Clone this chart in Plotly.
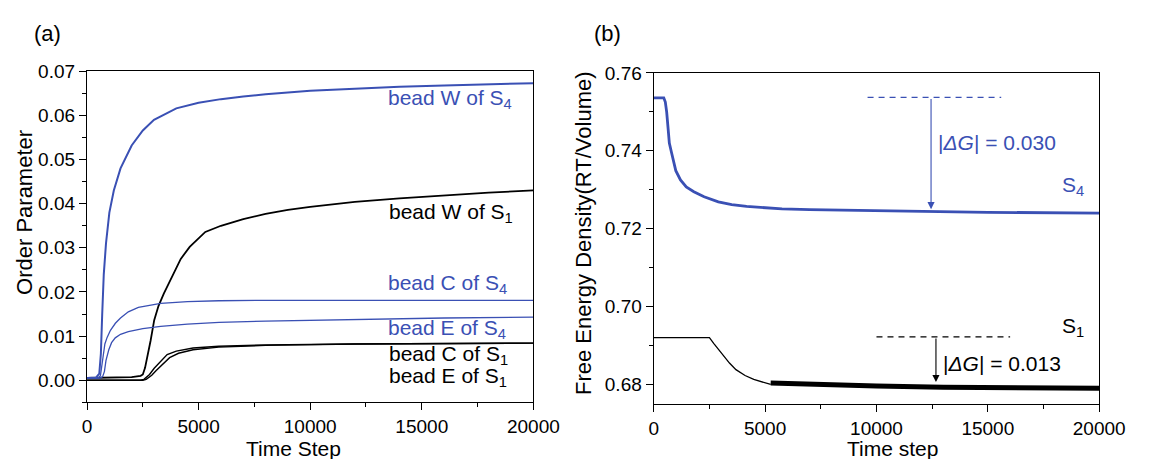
import plotly.graph_objects as go

BLUE = "#3a50b4"
BLACK = "#000000"
FONT = "Liberation Sans, Arial, sans-serif"

# ---------------- Panel (a) data: Order Parameter vs Time Step ----------------
t_ws4 = [0, 400, 550, 620, 680, 750, 850, 1000, 1200, 1500, 2000, 2500, 3000, 4000,
         5000, 6000, 7000, 8000, 10000, 12000, 14000, 16000, 18000, 20000]
ws4 = [0.0005, 0.0006, 0.0015, 0.006, 0.015, 0.024, 0.031, 0.038, 0.043, 0.048, 0.0532,
       0.0566, 0.059, 0.0616, 0.0629, 0.0637, 0.0643, 0.0648, 0.0656, 0.0661, 0.0665,
       0.0668, 0.0671, 0.0673]

t_cs4 = [0, 500, 600, 650, 700, 800, 900, 1050, 1270, 1500, 1850, 2300, 3300, 4500,
         5900, 8000, 12000, 20000]
cs4 = [0.0005, 0.0005, 0.001, 0.003, 0.0055, 0.0082, 0.0097, 0.0113, 0.0129, 0.0141,
       0.0155, 0.0165, 0.0174, 0.0178, 0.018, 0.0181, 0.0181, 0.0181]

t_es4 = [0, 600, 700, 780, 850, 975, 1100, 1265, 1500, 1850, 2500, 3300, 4500, 5920,
         8000, 10000, 13000, 16000, 20000]
es4 = [0.0005, 0.0005, 0.0008, 0.002, 0.0045, 0.0069, 0.0085, 0.0096, 0.0104, 0.011,
       0.0117, 0.0122, 0.0127, 0.0131, 0.0134, 0.0136, 0.0139, 0.0141, 0.0143]

t_ws1 = [0, 1500, 2000, 2400, 2500, 2600, 2720, 2850, 3010, 3200, 3440, 3880, 4200,
         4600, 5000, 5300, 6000, 7000, 8000, 9000, 10000, 12000, 14000, 16000, 18000, 20000]
ws1 = [0.0005, 0.0006, 0.0007, 0.001, 0.0013, 0.0028, 0.0055, 0.009, 0.0136, 0.0168,
       0.0196, 0.0241, 0.0275, 0.0302, 0.0322, 0.0336, 0.035, 0.0365, 0.0377, 0.0386,
       0.0393, 0.0404, 0.0412, 0.0419, 0.0425, 0.043]

t_cs1 = [0, 2400, 2550, 2800, 3010, 3300, 3590, 4000, 4750, 5900, 8000, 12000, 16000, 20000]
cs1 = [0.0, 0.0, 0.0002, 0.0013, 0.0027, 0.0043, 0.0058, 0.0066, 0.0073, 0.0077, 0.008,
       0.0082, 0.0083, 0.0084]

t_es1 = [0, 2500, 2650, 2900, 3100, 3400, 3700, 4100, 4750, 5900, 8000, 12000, 16000, 20000]
es1 = [0.0, 0.0, 0.0002, 0.0011, 0.0022, 0.0037, 0.0051, 0.0061, 0.0069, 0.0075, 0.0079,
       0.0082, 0.0083, 0.0084]

# ---------------- Panel (b) data: Free energy density vs Time step ----------------
t_g4 = [0, 450, 520, 580, 640, 700, 800, 990, 1200, 1460, 1800, 2260, 2900, 3500, 4170,
        5000, 5760, 7000, 8940, 12120, 15000, 20000]
g4 = [0.7536, 0.7536, 0.7525, 0.750, 0.746, 0.742, 0.7395, 0.7349, 0.7325, 0.7307,
      0.7295, 0.7282, 0.7269, 0.7262, 0.7257, 0.7253, 0.7251, 0.7249, 0.7247, 0.7244,
      0.7242, 0.7240]

t_g1_smooth = [0, 2500, 2700, 3055, 3400, 3690, 4100, 4490, 4900, 5250]
g1_smooth = [0.6920, 0.6920, 0.6905, 0.688, 0.6855, 0.6838, 0.6823, 0.6813, 0.6805, 0.6800]
t_g1_noisy = [5250, 7000, 10000, 13000, 16000, 20000]
g1_noisy = [0.6804, 0.6800, 0.6796, 0.6793, 0.6791, 0.6790]

# Reference levels / energy-gap markers
dash4_x = [9600, 15600]
dash4_y = [0.7537, 0.7537]
dash1_x = [10000, 16000]
dash1_y = [0.6922, 0.6922]
arrow4 = (12450, 0.7537, 0.7250)   # x, from y, to y
arrow1 = (12670, 0.6922, 0.6806)

fig = go.Figure()

def line(x, y, color, width, xa="x", ya="y", dash="solid"):
    fig.add_trace(go.Scatter(x=x, y=y, mode="lines", xaxis=xa, yaxis=ya,
                             line=dict(color=color, width=width, dash=dash),
                             showlegend=False, hoverinfo="skip"))

line(t_cs1, cs1, BLACK, 1.4)
line(t_es1, es1, BLACK, 1.4)
line(t_ws1, ws1, BLACK, 1.8)
line(t_es4, es4, BLUE, 1.3)
line(t_cs4, cs4, BLUE, 1.3)
line(t_ws4, ws4, BLUE, 2.0)

line(t_g4, g4, BLUE, 2.8, "x2", "y2")
line(t_g1_smooth, g1_smooth, BLACK, 1.3, "x2", "y2")
line(t_g1_noisy, g1_noisy, BLACK, 5, "x2", "y2")
line(dash4_x, dash4_y, BLUE, 1.3, "x2", "y2", dash="6px,5px")
line(dash1_x, dash1_y, BLACK, 1.3, "x2", "y2", dash="6px,5px")

W, H = 1151, 459
def px(v):
    return v / W
def py(v):
    return 1 - v / H

tickfont = dict(family=FONT, size=19, color="black")
axis_common = dict(showline=True, linecolor="black", linewidth=1.3, mirror=True,
                   ticks="outside", ticklen=7, tickwidth=1.3, tickcolor="black",
                   showgrid=False, zeroline=False, tickfont=tickfont)

fig.update_layout(
    width=W, height=H,
    margin=dict(l=0, r=0, t=0, b=0),
    paper_bgcolor="white", plot_bgcolor="white",
    font=dict(family=FONT, color="black"),
    xaxis=dict(domain=[px(84.3), px(543)], range=[0, 20000], tickmode="linear",
               tick0=0, dtick=5000, tickformat="d",
               minor=dict(ticks="outside", ticklen=4, tickwidth=1.3, tickcolor="black",
                          tick0=0, dtick=2500),
               anchor="y", **axis_common),
    yaxis=dict(domain=[py(401), py(62.7)], range=[-0.005, 0.07], tickmode="linear",
               tick0=0, dtick=0.01, tickformat=".2f",
               minor=dict(ticks="outside", ticklen=4, tickwidth=1.3, tickcolor="black",
                          tick0=0, dtick=0.005),
               anchor="x", **axis_common),
    xaxis2=dict(domain=[px(666.7), px(1124.5)], range=[0, 20000], tickmode="linear",
                tick0=0, dtick=5000, tickformat="d",
                minor=dict(ticks="outside", ticklen=4, tickwidth=1.3, tickcolor="black",
                           tick0=0, dtick=2500),
                anchor="y2", **axis_common),
    yaxis2=dict(domain=[py(402.7), py(64.3)], range=[0.675, 0.76], tickmode="linear",
                tick0=0.68, dtick=0.02, tickformat=".2f",
                minor=dict(ticks="outside", ticklen=4, tickwidth=1.3, tickcolor="black",
                           tick0=0.67, dtick=0.01),
                anchor="x2", **axis_common),
)

ann = []
def text(x, y, s, color="black", size=21, xref="x", yref="y", xanchor="left",
         yanchor="middle", angle=0):
    ann.append(dict(x=x, y=y, text=s, xref=xref, yref=yref, xanchor=xanchor,
                    yanchor=yanchor, showarrow=False, textangle=angle,
                    font=dict(family=FONT, size=size, color=color)))

# Panel labels and axis titles
text(px(44), py(24), "(a)", size=22, xref="paper", yref="paper", xanchor="center")
text(px(619), py(24), "(b)", size=22, xref="paper", yref="paper", xanchor="center")
text(px(20), py(207), "Order Parameter", size=22, xref="paper", yref="paper",
     xanchor="center", angle=-90)
text(px(296), py(448), "Time Step", size=21, xref="paper", yref="paper", xanchor="center")
text(px(594), py(228), "Free Energy Density(RT/Volume)", size=22, xref="paper",
     yref="paper", xanchor="center", angle=-90)
text(px(912), py(448), "Time step", size=21, xref="paper", yref="paper", xanchor="center")

# Curve labels panel (a)
text(13400, 0.0637, "bead W of S<sub>4</sub>", BLUE)
text(13440, 0.0380, "bead W of S<sub>1</sub>", BLACK)
text(13400, 0.0218, "bead C of S<sub>4</sub>", BLUE)
text(13400, 0.0116, "bead E of S<sub>4</sub>", BLUE)
text(13440, 0.0056, "bead C of S<sub>1</sub>", BLACK)
text(13440, 0.0008, "bead E of S<sub>1</sub>", BLACK)

# Panel (b) labels
text(12680, 0.7420, "|<i>ΔG</i>| = 0.030", BLUE, xref="x2", yref="y2")
text(12890, 0.6855, "|<i>ΔG</i>| = 0.013", BLACK, xref="x2", yref="y2")
text(19400, 0.7310, "S<sub>4</sub>", BLUE, xref="x2", yref="y2", xanchor="right")
text(19400, 0.6948, "S<sub>1</sub>", BLACK, xref="x2", yref="y2", xanchor="right")

for (ax_x, y0, y1), col in [(arrow4, BLUE), (arrow1, BLACK)]:
    ann.append(dict(x=ax_x, y=y1, ax=ax_x, ay=y0, xref="x2", yref="y2",
                    axref="x2", ayref="y2", text="", showarrow=True, arrowhead=2,
                    arrowsize=1.3, arrowwidth=1.1, arrowcolor=col, standoff=0))

fig.update_layout(annotations=ann)
fig.write_html("out.html",
               config={"displayModeBar": False, "responsive": False},
               post_script="document.body.style.margin='0';"
                           "document.body.style.overflow='hidden';")
